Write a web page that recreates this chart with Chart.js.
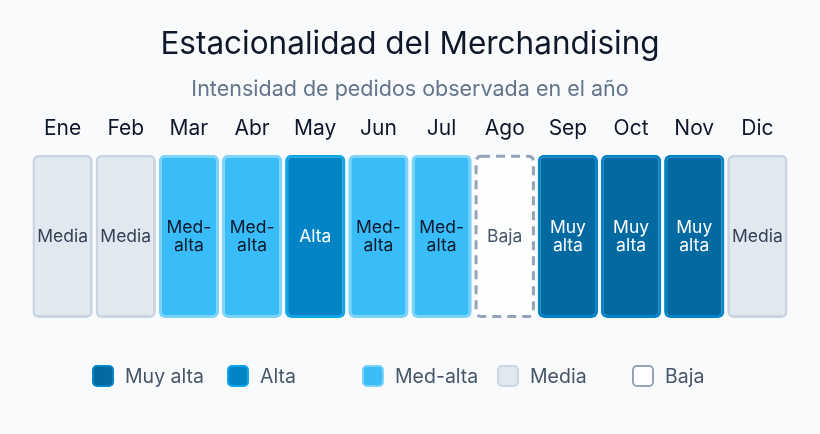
<!DOCTYPE html>
<html>
<head>
<meta charset="utf-8">
<script src="https://cdn.jsdelivr.net/npm/chart.js@4.4.1/dist/chart.umd.min.js"></script>
<style>
  html, body { margin: 0; padding: 0; background: #f8fafc; }
  #wrap { position: relative; width: 820px; height: 434px; }
  #legend { position: absolute; left: 92px; top: 364px; display: flex; font-family: Inter, sans-serif; }
  .item { width: 135px; display: flex; align-items: center; font-size: 19.5px; color: #475569; }
  .box { width: 18px; height: 18px; border-radius: 5px; border: 2px solid; margin-right: 11px; }
</style>
</head>
<body>
<div id="wrap">
  <canvas id="chart" width="820" height="434"></canvas>
  <div id="legend"></div>
</div>
<script>
const months = ["Ene", "Feb", "Mar", "Abr", "May", "Jun", "Jul", "Ago", "Sep", "Oct", "Nov", "Dic"]
const levels = ["Media", "Media", "Med-alta", "Med-alta", "Alta", "Med-alta", "Med-alta", "Baja", "Muy alta", "Muy alta", "Muy alta", "Media"]
const cellText = ["Media", "Media", "Med-\nalta", "Med-\nalta", "Alta", "Med-\nalta", "Med-\nalta", "Baja", "Muy\nalta", "Muy\nalta", "Muy\nalta", "Media"]
const legendOrder = ["Muy alta", "Alta", "Med-alta", "Media", "Baja"]

const styles = {
  "Muy alta": { fill: "#0369a1", border: "#0284c7", text: "#ffffff" },
  "Alta": { fill: "#0284c7", border: "#0ea5e9", text: "#ffffff" },
  "Med-alta": { fill: "#38bdf8", border: "#7dd3fc", text: "#0f172a" },
  "Media": { fill: "#e2e8f0", border: "#cbd5e1", text: "#334155" },
  "Baja": { fill: "rgba(255,255,255,0.7)", border: "#94a3b8", text: "#475569" }
}

// draws dashed border for "Baja" and the text inside each cell
const cellPlugin = {
  id: "cells",
  afterDatasetsDraw(chart) {
    const ctx = chart.ctx
    chart.getDatasetMeta(0).data.forEach((bar, i) => {
      const lvl = levels[i]
      const left = bar.x - bar.width / 2
      const top = Math.min(bar.y, bar.base)
      const h = Math.abs(bar.base - bar.y)
      if (lvl === "Baja") {
        ctx.save()
        ctx.strokeStyle = styles.Baja.border
        ctx.lineWidth = 3
        ctx.setLineDash([9, 6])
        ctx.beginPath()
        ctx.roundRect(left + 1.5, top + 1.5, bar.width - 3, h - 3, 5)
        ctx.stroke()
        ctx.restore()
      }
      const lines = cellText[i].split("\n")
      ctx.save()
      ctx.fillStyle = styles[lvl].text
      ctx.font = "17.5px Inter, sans-serif"
      ctx.textAlign = "center"
      ctx.textBaseline = "middle"
      const cy = top + h / 2
      const lh = 18
      lines.forEach((t, j) => {
        ctx.fillText(t, bar.x, cy + (j - (lines.length - 1) / 2) * lh)
      })
      ctx.restore()
    })
  }
}

new Chart(document.getElementById("chart"), {
  type: "bar",
  data: {
    labels: months,
    datasets: [{
      data: months.map(() => [0, 1]),
      backgroundColor: levels.map(l => styles[l].fill),
      borderColor: levels.map(l => styles[l].border),
      borderWidth: levels.map(l => l === "Baja" ? 0 : 3),
      borderSkipped: false,
      borderRadius: 6,
      barPercentage: 0.955,
      categoryPercentage: 1
    }]
  },
  options: {
    responsive: false,
    animation: false,
    layout: { padding: { left: 31, right: 31, top: 18, bottom: 116 } },
    plugins: {
      legend: { display: false },
      tooltip: { enabled: false },
      title: {
        display: true,
        text: "Estacionalidad del Merchandising",
        color: "#0f172a",
        font: { family: "Inter", size: 31.5, weight: "400" },
        padding: { top: 8, bottom: 13 }
      },
      subtitle: {
        display: true,
        text: "Intensidad de pedidos observada en el año",
        color: "#64748b",
        font: { family: "Inter", size: 21.5, weight: "400" },
        padding: { top: 0, bottom: 7 }
      }
    },
    scales: {
      x: {
        position: "top",
        grid: { display: false },
        border: { display: false },
        ticks: { color: "#0f172a", font: { family: "Inter", size: 21 }, padding: 6 }
      },
      y: { display: false, min: 0, max: 1 }
    }
  },
  plugins: [cellPlugin]
})

const legend = document.getElementById("legend")
legendOrder.forEach(l => {
  const item = document.createElement("div")
  item.className = "item"
  const box = document.createElement("span")
  box.className = "box"
  box.style.background = l === "Baja" ? "#ffffff" : styles[l].fill
  box.style.borderColor = styles[l].border
  item.appendChild(box)
  item.appendChild(document.createTextNode(l))
  legend.appendChild(item)
})
</script>
</body>
</html>
